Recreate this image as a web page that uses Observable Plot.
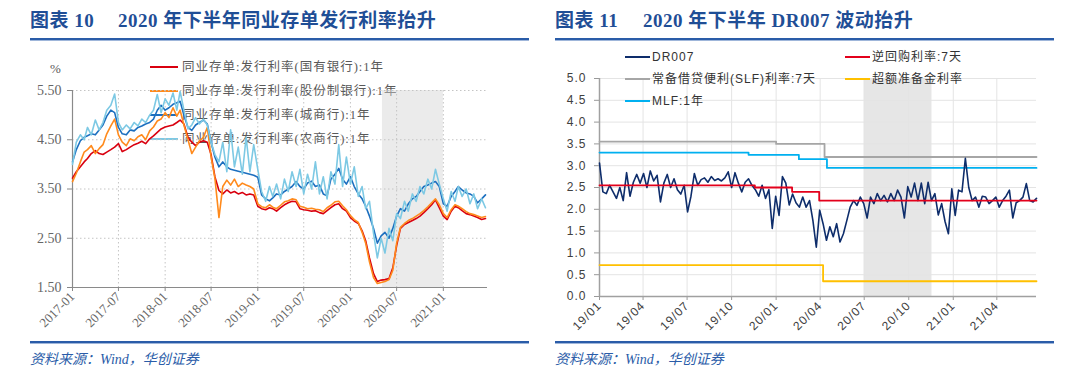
<!DOCTYPE html>
<html><head><meta charset="utf-8">
<script src="https://cdn.jsdelivr.net/npm/d3@7"></script>
<script src="https://cdn.jsdelivr.net/npm/@observablehq/plot@0.6"></script>
<style>
html,body{margin:0;padding:0;background:#fff;}
#wrap{position:relative;width:1080px;height:386px;overflow:hidden;background:#fff;}
.abs{position:absolute;white-space:nowrap;}
.t1{font-family:"Liberation Serif","Noto Sans CJK SC",serif;font-weight:700;font-size:19px;color:#1F4E96;letter-spacing:0.5px;line-height:22px;}
.rule{position:absolute;height:2px;background:#2A5CA8;border-bottom:1px solid #9fb6da;}
.src{font-family:"Liberation Serif","Noto Sans CJK SC",serif;font-style:italic;font-size:14px;color:#2A5CA8;line-height:18px;}
.legL{font-family:"Liberation Serif","Noto Sans CJK SC",serif;font-size:12.5px;color:#595959;letter-spacing:1px;line-height:16px;}
.legR{font-family:"Liberation Sans","Noto Sans CJK SC",sans-serif;font-size:12px;color:#333;letter-spacing:1px;line-height:16px;}
.sw{display:inline-block;height:2.5px;vertical-align:middle;margin-right:4px;position:relative;top:-1px;}
.chart{position:absolute;left:0;top:0;z-index:1;}
#legendR{position:absolute;left:0;top:0;z-index:2;}
</style>
</head><body>
<div id="wrap">
  <div class="abs t1" style="left:30px;top:10px;">图表 10</div>
  <div class="abs t1" style="left:118px;top:10px;">2020 年下半年同业存单发行利率抬升</div>
  <div class="rule" style="left:30px;top:38px;width:499px;"></div>
  <div class="abs t1" style="left:555px;top:10px;">图表 11</div>
  <div class="abs t1" style="left:643px;top:10px;">2020 年下半年 DR007 波动抬升</div>
  <div class="rule" style="left:555px;top:38px;width:499px;"></div>
  <div class="rule" style="left:30px;top:341px;width:499px;"></div>
  <div class="rule" style="left:555px;top:341px;width:499px;"></div>
  <div class="abs src" style="left:30px;top:351px;">资料来源：Wind，华创证券</div>
  <div class="abs src" style="left:555px;top:351px;">资料来源：Wind，华创证券</div>
  <div class="abs legL" style="left:50px;top:61px;font-size:13px;">%</div>
  <div id="legendL"></div>
  <div id="boxL" class="chart" style="left:0;"></div>
  <div id="boxR" class="chart" style="left:540px;"></div>
  <div id="legendR"></div>
</div>
<script>
// ---------- Left chart data (semi-monthly readings, 2017-01 .. 2021-06) ----------
const startL = "2017-01-01";
const seriesNamesL = ["同业存单:发行利率(国有银行):1年","同业存单:发行利率(股份制银行):1年","同业存单:发行利率(城商行):1年","同业存单:发行利率(农商行):1年"];
const seriesColorsL = ["#D9000F","#FF8A1C","#1C6FBF","#7DC9E4"];
const stateBanks = [3.72,3.85,3.95,4.05,4.12,4.22,4.28,4.22,4.20,4.25,
 4.30,4.35,4.42,4.26,4.30,4.35,4.40,4.43,4.47,4.42,
 4.52,4.58,4.65,4.72,4.76,4.78,4.80,4.85,4.90,4.82,
 4.55,4.45,4.38,4.45,4.48,4.45,4.20,3.75,3.47,3.40,
 3.48,3.42,3.45,3.40,3.43,3.38,3.40,3.38,3.15,3.10,
 3.08,3.12,3.10,3.05,3.12,3.18,3.22,3.25,3.24,3.10,
 3.08,3.07,3.05,3.06,3.02,3.00,3.06,3.12,3.18,3.20,
 3.10,3.05,2.92,2.85,2.80,2.65,2.45,2.10,1.78,1.62,
 1.65,1.66,1.68,1.90,2.35,2.70,2.78,2.82,2.86,2.90,
 2.95,3.02,3.10,3.18,3.28,3.12,2.95,2.88,3.05,3.15,
 3.12,3.06,3.00,2.98,2.95,2.92,2.88,2.90];
const jointStock = [3.65,3.82,4.05,4.25,4.30,4.38,4.22,4.32,4.40,4.62,
 4.78,4.92,4.60,4.45,4.38,4.52,4.48,4.56,4.60,4.50,
 4.68,4.76,4.88,4.92,5.05,4.95,5.15,4.98,5.10,4.80,
 4.50,4.22,4.35,4.48,4.55,4.75,4.15,3.72,2.92,3.55,
 3.68,3.58,3.70,3.55,3.62,3.58,3.55,3.50,3.20,3.14,
 3.12,3.18,3.13,3.10,3.17,3.24,3.26,3.30,3.28,3.15,
 3.13,3.10,3.11,3.09,3.08,3.04,3.12,3.17,3.24,3.25,
 3.16,3.08,2.96,2.88,2.82,2.62,2.40,2.02,1.70,1.58,
 1.60,1.62,1.66,1.85,2.40,2.72,2.80,2.86,2.90,2.95,
 3.00,3.06,3.14,3.22,3.30,3.18,3.00,2.92,3.08,3.18,
 3.15,3.10,3.04,3.00,2.98,2.95,2.92,2.94];
const cityBanks = [4.05,4.30,4.48,4.55,4.58,4.62,4.60,4.70,4.80,4.98,
 5.10,5.05,4.75,4.62,4.60,4.70,4.68,4.75,4.78,4.82,
 4.85,4.92,5.10,5.20,5.10,5.15,5.22,5.25,5.28,5.00,
 4.75,4.69,4.80,4.85,4.90,4.82,4.45,4.15,3.95,4.05,
 3.95,3.90,3.88,3.86,3.84,3.82,3.80,3.78,3.74,3.38,
 3.30,3.26,3.32,3.40,3.38,3.45,3.50,3.55,3.65,3.55,
 3.50,3.62,3.66,3.55,3.58,3.40,3.36,3.70,3.80,3.92,
 3.70,3.60,3.75,3.55,3.40,3.30,3.15,2.95,2.70,2.40,
 2.55,2.62,2.50,2.70,2.95,3.10,3.05,3.20,3.30,3.35,
 3.45,3.55,3.58,3.62,3.65,3.55,3.20,3.15,3.35,3.45,
 3.55,3.48,3.42,3.40,3.35,3.22,3.30,3.38];
const ruralBanks = [4.00,4.45,4.60,4.50,4.75,4.60,4.90,4.70,4.85,5.10,
 5.20,5.43,4.85,4.70,4.80,4.72,4.85,4.78,4.92,4.85,
 5.00,5.10,5.42,5.05,5.33,5.20,5.45,5.10,5.48,5.10,
 4.72,4.80,4.95,4.82,4.92,4.80,4.45,4.20,4.05,4.45,
 3.85,4.70,3.95,4.35,3.80,4.55,3.85,4.40,3.90,3.45,
 3.25,3.55,3.35,3.60,3.30,3.70,3.45,3.85,3.55,3.90,
 3.40,3.80,3.50,4.05,3.40,3.75,3.30,3.85,3.60,4.40,
 3.55,4.15,3.60,3.95,3.35,3.55,3.10,3.25,2.60,2.10,
 2.50,2.20,2.70,2.45,3.00,2.90,3.25,3.05,3.40,3.25,
 3.55,3.40,3.70,3.50,3.90,3.60,3.30,3.05,3.45,3.25,
 3.55,3.35,3.50,3.20,3.40,3.10,3.30,3.12];
const xDomainL = ["2017-01-01","2021-06-24"];
const yDomainL = [1.5, 5.5];
const yTicksL = [1.5, 2.5, 3.5, 4.5, 5.5];
const xTicksL = ["2017-01-01","2017-07-01","2018-01-01","2018-07-01","2019-01-01","2019-07-01","2020-01-01","2020-07-01","2021-01-01"];
const shadeL = ["2020-05-06","2021-01-01"];

// ---------- Right chart data ----------
const startR = "2019-01-01";
const dr007 = [3.06,2.40,2.36,2.55,2.40,2.25,2.50,2.20,2.84,2.30,
 2.62,2.80,2.60,2.82,2.50,2.88,2.65,2.78,2.17,2.60,
 2.80,2.50,2.70,2.45,2.35,2.55,1.94,2.30,2.82,2.55,
 2.68,2.72,2.62,2.75,2.66,2.70,2.65,2.72,2.86,2.50,
 2.84,2.60,2.40,2.62,2.70,2.55,2.45,2.30,2.55,2.25,
 2.45,1.56,2.30,1.86,2.75,2.60,2.10,2.35,2.15,2.05,
 2.28,2.05,2.20,1.74,1.13,1.98,1.67,1.29,1.60,1.37,
 1.67,1.25,1.44,1.74,2.05,2.20,2.09,2.28,2.13,1.80,
 2.28,2.13,2.36,2.20,2.32,2.17,2.36,2.20,2.44,2.28,
 1.80,2.52,2.28,2.60,2.20,2.60,2.13,2.62,2.20,2.36,
 1.87,2.13,1.72,1.44,2.47,1.86,2.44,2.40,3.17,2.50,
 2.20,2.28,2.05,2.30,2.28,2.13,2.20,2.28,2.05,2.20,
 2.30,2.44,1.80,2.15,2.20,2.28,2.59,2.20,2.17,2.25];
const slfDates = ["2019-01-01","2020-01-01","2020-04-10","2021-06-22"];
const slfValues = [3.55, 3.50, 3.20, 3.20];
const mlfDates = ["2019-01-01","2019-11-05","2020-02-17","2020-04-15","2021-06-22"];
const mlfValues = [3.30, 3.25, 3.15, 2.95, 2.95];
const rrDates = ["2019-01-01","2019-11-18","2020-02-03","2020-03-30","2021-06-22"];
const rrValues = [2.55, 2.50, 2.40, 2.20, 2.20];
const ioerDates = ["2019-01-01","2020-04-07","2021-06-22"];
const ioerValues = [0.72, 0.35, 0.35];
const xDomainR = ["2019-01-01","2021-06-22"];
const yDomainR = [0, 5];
const yTicksR = [0, 0.5, 1, 1.5, 2, 2.5, 3, 3.5, 4, 4.5, 5];
const xTicksR = ["2019-01-01","2019-04-01","2019-07-01","2019-10-01","2020-01-01","2020-04-01","2020-07-01","2020-10-01","2021-01-01","2021-04-01"];
const shadeR = ["2020-07-01","2020-11-18"];
const legendR = [
  {name:"DR007", color:"#0E2D6B", x:625, y:57},
  {name:"常备借贷便利(SLF)利率:7天", color:"#A6A6A6", x:625, y:79},
  {name:"MLF:1年", color:"#00B0F0", x:625, y:101},
  {name:"逆回购利率:7天", color:"#E3001B", x:845, y:57},
  {name:"超额准备金利率", color:"#FFC000", x:845, y:79}
];
const legendRowsL = [67, 91, 115, 139];

// ---------- build ----------
const P = s => d3.utcParse("%Y-%m-%d")(s);
const datesL = stateBanks.map((_, i) => d3.utcDay.offset(d3.utcMonth.offset(P(startL), Math.floor(i / 2)), (i % 2) * 15));
const datesR = dr007.map((_, k) => d3.utcDay.offset(P(startR), 7 * k));

// legends
const legL = document.getElementById("legendL");
seriesNamesL.forEach((n, i) => {
  const d = document.createElement("div");
  d.className = "abs legL";
  d.style.left = "150px"; d.style.top = (legendRowsL[i] - 8) + "px";
  d.innerHTML = `<span class="sw" style="width:28px;background:${seriesColorsL[i]}"></span>${n}`;
  legL.appendChild(d);
});
const legRdiv = document.getElementById("legendR");
legendR.forEach(l => {
  const d = document.createElement("div");
  d.className = "abs legR";
  d.style.left = l.x + "px"; d.style.top = (l.y - 8) + "px";
  d.innerHTML = `<span class="sw" style="width:25px;background:${l.color};margin-right:2px"></span>${l.name}`;
  legRdiv.appendChild(d);
});

const seriesL = [stateBanks, jointStock, cityBanks, ruralBanks];
const chartL = Plot.plot({
  width: 540, height: 330,
  marginLeft: 72, marginRight: 53, marginTop: 90, marginBottom: 43,
  style: {background: "transparent", fontFamily: '"Liberation Serif", serif', fontSize: "13px", color: "#666", overflow: "visible"},
  x: {type: "utc", domain: xDomainL.map(P)},
  y: {domain: yDomainL},
  marks: [
    Plot.rect([{a: P(shadeL[0]), b: P(shadeL[1])}], {x1: "a", x2: "b", fill: "#d2d2d2", fillOpacity: 0.45}),
    Plot.gridY(yTicksL, {stroke: "#c4c4c4", strokeOpacity: 1, strokeDasharray: "1.5,2.5"}),
    Plot.gridX(xTicksL.map(P), {stroke: "#c4c4c4", strokeOpacity: 1, strokeDasharray: "1.5,2.5"}),
    Plot.axisY(yTicksL, {tickFormat: d3.format(".2f"), tickSize: 5, tickPadding: 6, fontSize: 14, label: null, stroke: "#888"}),
    Plot.axisX(xTicksL.map(P), {tickFormat: d3.utcFormat("%Y-%m"), tickRotate: -45, tickSize: 4, tickPadding: 3, label: null, stroke: "#888"}),
    Plot.ruleX([P(xDomainL[0])], {stroke: "#8a8a8a", strokeWidth: 1.2}),
    Plot.ruleY([yDomainL[0]], {stroke: "#8a8a8a", strokeWidth: 1.2}),
    ...seriesL.map((s, i) => Plot.lineY(s, {x: datesL, stroke: seriesColorsL[i], strokeWidth: 1.6}))
  ]
});
document.getElementById("boxL").appendChild(chartL);

const stepLine = (dates, vals, color) => Plot.line(vals, {x: dates.map(P), y: vals, stroke: color, strokeWidth: 1.8, curve: "step-after"});
const chartR = Plot.plot({
  width: 540, height: 330,
  marginLeft: 59, marginRight: 44, marginTop: 78, marginBottom: 34,
  style: {background: "transparent", fontFamily: '"Liberation Sans", sans-serif', fontSize: "12px", color: "#404040", letterSpacing: "1px", overflow: "visible"},
  x: {type: "utc", domain: xDomainR.map(P)},
  y: {domain: yDomainR},
  marks: [
    Plot.rect([{a: P(shadeR[0]), b: P(shadeR[1])}], {x1: "a", x2: "b", fill: "#e6e6e6"}),
    Plot.gridY(yTicksR, {stroke: "#e4e4e4", strokeOpacity: 1}),
    Plot.gridX(xTicksR.map(P), {stroke: "#e4e4e4", strokeOpacity: 1}),
    Plot.axisY(yTicksR, {tickFormat: d3.format(".1f"), tickSize: 5, tickPadding: 8, label: null, stroke: "#999"}),
    Plot.axisX(xTicksR.map(P), {tickFormat: d3.utcFormat("%y/%m"), tickRotate: -45, tickSize: 4, tickPadding: 3, label: null, stroke: "#999"}),
    Plot.ruleX([P(xDomainR[0])], {stroke: "#a0a0a0", strokeWidth: 1.5}),
    Plot.ruleY([yDomainR[0]], {stroke: "#a0a0a0", strokeWidth: 1.5}),
    stepLine(ioerDates, ioerValues, "#FFC000"),
    stepLine(slfDates, slfValues, "#A6A6A6"),
    stepLine(mlfDates, mlfValues, "#00B0F0"),
    Plot.lineY(dr007, {x: datesR, stroke: "#0E2D6B", strokeWidth: 1.6}),
    stepLine(rrDates, rrValues, "#E3001B")
  ]
});
document.getElementById("boxR").appendChild(chartR);
</script>
</body></html>
